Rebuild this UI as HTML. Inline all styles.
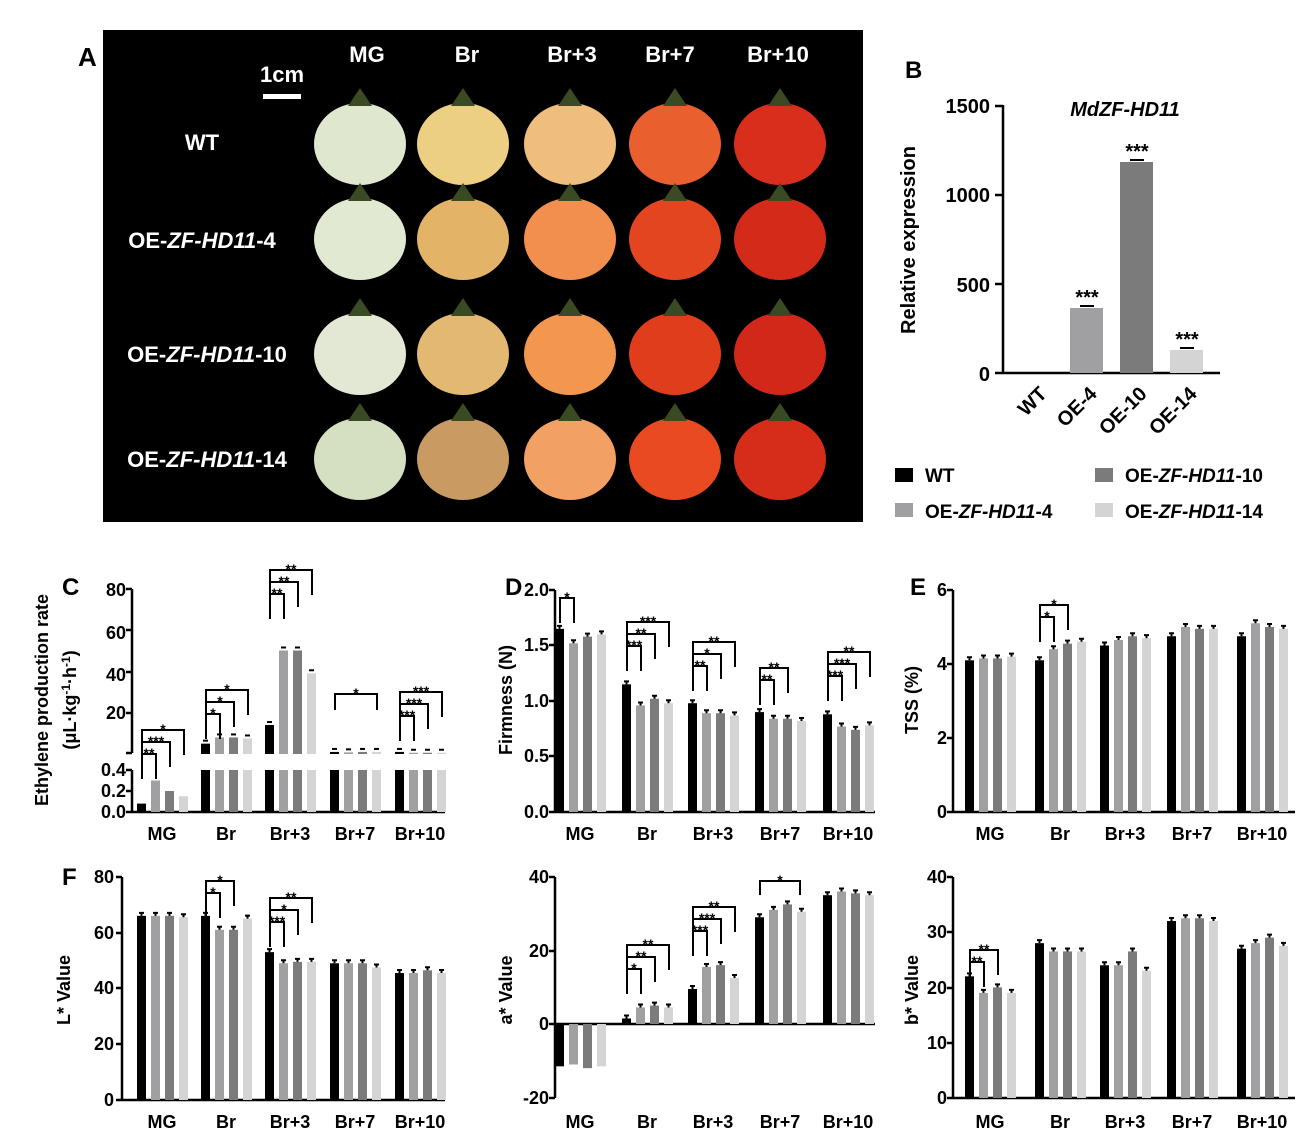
<!DOCTYPE html>
<html><head><meta charset="utf-8"><style>
body{margin:0;background:#fff;}
svg{display:block;font-family:"Liberation Sans",Arial,sans-serif;font-weight:bold;}
</style></head><body>
<svg id="s" width="1313" height="1145" viewBox="0 0 1313 1145" xmlns="http://www.w3.org/2000/svg">
<rect width="1313" height="1145" fill="#fff"/>
<!-- Panel A -->
<text x="78" y="66" font-size="26">A</text>
<rect x="103" y="30" width="760" height="492" fill="#000"/>
<g fill="#fff" font-size="22" text-anchor="middle">
<text x="367" y="62">MG</text><text x="467" y="62">Br</text><text x="572" y="62">Br+3</text><text x="670" y="62">Br+7</text><text x="778" y="62">Br+10</text>
<text x="282" y="82">1cm</text>
<text x="202" y="150">WT</text>
<text x="202" y="248">OE-<tspan font-style="italic">ZF-HD11</tspan>-4</text>
<text x="207" y="362">OE-<tspan font-style="italic">ZF-HD11</tspan>-10</text>
<text x="207" y="467">OE-<tspan font-style="italic">ZF-HD11</tspan>-14</text>
</g>
<rect x="263" y="94" width="38" height="5" fill="#fff"/>
<g id="tom"></g>
<!-- Panel B -->
<text x="905" y="78" font-size="24">B</text>
<text x="1125" y="116" font-size="20" font-style="italic" text-anchor="middle">MdZF-HD11</text>
<g font-size="20" text-anchor="end">
<text x="990" y="113">1500</text><text x="990" y="202">1000</text><text x="990" y="292">500</text><text x="990" y="381">0</text>
</g>
<text transform="translate(915,240) rotate(-90)" font-size="20" text-anchor="middle">Relative expression</text>
<path d="M1003 105V373H1220M995 106H1003M995 195H1003M995 284H1003M995 373H1003" stroke="#000" stroke-width="2.5" fill="none"/>
<rect x="1070" y="308" width="33" height="65" fill="#a0a0a2"/>
<rect x="1120" y="162" width="33" height="211" fill="#7b7b7b"/>
<rect x="1170" y="350" width="33" height="23" fill="#d4d4d4"/>
<path d="M1080 306H1094M1130 160H1144M1180 348H1194" stroke="#000" stroke-width="2"/>
<g font-size="20" text-anchor="middle"><text x="1087" y="304">***</text><text x="1137" y="158">***</text><text x="1187" y="346">***</text></g>
<g font-size="20" text-anchor="end">
<text transform="translate(1048,395) rotate(-45)">WT</text>
<text transform="translate(1098,395) rotate(-45)">OE-4</text>
<text transform="translate(1148,395) rotate(-45)">OE-10</text>
<text transform="translate(1198,395) rotate(-45)">OE-14</text>
</g>
<!-- legend -->
<rect x="895" y="468" width="18" height="14" fill="#000"/><text x="925" y="482" font-size="19">WT</text>
<rect x="895" y="503" width="18" height="14" fill="#a0a0a2"/><text x="925" y="518" font-size="19">OE-<tspan font-style="italic">ZF-HD11</tspan>-4</text>
<rect x="1095" y="468" width="18" height="14" fill="#7b7b7b"/><text x="1125" y="482" font-size="19">OE-<tspan font-style="italic">ZF-HD11</tspan>-10</text>
<rect x="1095" y="503" width="18" height="14" fill="#d4d4d4"/><text x="1125" y="518" font-size="19">OE-<tspan font-style="italic">ZF-HD11</tspan>-14</text>
<!-- Panel labels -->
<text x="62" y="595" font-size="24">C</text>
<text x="505" y="595" font-size="24">D</text>
<text x="910" y="595" font-size="24">E</text>
<text x="62" y="885" font-size="24">F</text>
<!-- C axis -->
<g font-size="18" text-anchor="end">
<text x="126" y="596">80</text><text x="126" y="639">60</text><text x="126" y="681">40</text><text x="126" y="719">20</text>
<text x="126" y="776">0.4</text><text x="126" y="797">0.2</text><text x="126" y="818">0.0</text>
</g>
<text transform="translate(48,700) rotate(-90)" font-size="18" text-anchor="middle">Ethylene production rate</text>
<text transform="translate(76,700) rotate(-90)" font-size="18" text-anchor="middle">(μL·kg<tspan font-size="12" dy="-6">-1</tspan><tspan dy="6">·h</tspan><tspan font-size="12" dy="-6">-1</tspan><tspan dy="6">)</tspan></text>
<path d="M132 589V753M126 589H132M126 630H132M126 672H132M126 713H132M126 753H132M132 770V812H445M126 770H132M126 791H132M126 812H132" stroke="#000" stroke-width="2.5" fill="none"/>
<!-- D axis -->
<g font-size="18" text-anchor="end">
<text x="549" y="596">2.0</text><text x="549" y="651">1.5</text><text x="549" y="707">1.0</text><text x="549" y="762">0.5</text><text x="549" y="818">0.0</text>
</g>
<text transform="translate(512,700) rotate(-90)" font-size="18" text-anchor="middle">Firmness (N)</text>
<path d="M555 590V812H875M549 590H555M549 645H555M549 701H555M549 756H555M549 812H555" stroke="#000" stroke-width="2.5" fill="none"/>
<!-- E axis -->
<g font-size="18" text-anchor="end">
<text x="947" y="596">6</text><text x="947" y="670">4</text><text x="947" y="744">2</text><text x="947" y="818">0</text>
</g>
<text transform="translate(918,700) rotate(-90)" font-size="18" text-anchor="middle">TSS  (%)</text>
<path d="M953 590V812H1295M947 590H953M947 664H953M947 738H953M947 812H953" stroke="#000" stroke-width="2.5" fill="none"/>
<!-- F L* -->
<g font-size="18" text-anchor="end">
<text x="114" y="883">80</text><text x="114" y="939">60</text><text x="114" y="994">40</text><text x="114" y="1050">20</text><text x="114" y="1106">0</text>
</g>
<text transform="translate(70,990) rotate(-90)" font-size="18" text-anchor="middle">L* Value</text>
<path d="M122 877V1100H445M116 877H122M116 933H122M116 988H122M116 1044H122M116 1100H122" stroke="#000" stroke-width="2.5" fill="none"/>
<!-- a* -->
<g font-size="18" text-anchor="end">
<text x="549" y="883">40</text><text x="549" y="957">20</text><text x="549" y="1030">0</text><text x="549" y="1104">-20</text>
</g>
<text transform="translate(512,990) rotate(-90)" font-size="18" text-anchor="middle">a* Value</text>
<path d="M555 877V1098M549 877H555M549 951H555M549 1024H555M549 1098H555M555 1024H875" stroke="#000" stroke-width="2.5" fill="none"/>
<!-- b* -->
<g font-size="18" text-anchor="end">
<text x="947" y="883">40</text><text x="947" y="938">30</text><text x="947" y="994">20</text><text x="947" y="1049">10</text><text x="947" y="1104">0</text>
</g>
<text transform="translate(918,990) rotate(-90)" font-size="18" text-anchor="middle">b* Value</text>
<path d="M953 877V1098H1295M947 877H953M947 932H953M947 988H953M947 1043H953M947 1098H953" stroke="#000" stroke-width="2.5" fill="none"/>
<!-- x labels -->
<g font-size="18" text-anchor="middle">
<text x="162" y="840">MG</text><text x="226" y="840">Br</text><text x="290" y="840">Br+3</text><text x="355" y="840">Br+7</text><text x="420" y="840">Br+10</text>
<text x="580" y="840">MG</text><text x="647" y="840">Br</text><text x="713" y="840">Br+3</text><text x="780" y="840">Br+7</text><text x="848" y="840">Br+10</text>
<text x="990" y="840">MG</text><text x="1060" y="840">Br</text><text x="1125" y="840">Br+3</text><text x="1192" y="840">Br+7</text><text x="1262" y="840">Br+10</text>
<text x="162" y="1128">MG</text><text x="226" y="1128">Br</text><text x="290" y="1128">Br+3</text><text x="355" y="1128">Br+7</text><text x="420" y="1128">Br+10</text>
<text x="580" y="1128">MG</text><text x="647" y="1128">Br</text><text x="713" y="1128">Br+3</text><text x="780" y="1128">Br+7</text><text x="848" y="1128">Br+10</text>
<text x="990" y="1128">MG</text><text x="1060" y="1128">Br</text><text x="1125" y="1128">Br+3</text><text x="1192" y="1128">Br+7</text><text x="1262" y="1128">Br+10</text>
</g>
<!-- significance asterisks -->
<g font-size="14" text-anchor="middle">
<text x="163" y="734">*</text><text x="156" y="746">***</text><text x="149" y="758">**</text>
<text x="227" y="694">*</text><text x="220" y="706">*</text><text x="213" y="718">*</text>
<text x="291" y="574">**</text><text x="284" y="586">**</text><text x="277" y="598">**</text>
<text x="356" y="698">*</text>
<text x="421" y="696">***</text><text x="414" y="708">***</text><text x="407" y="720">***</text>
<text x="567" y="602">*</text>
<text x="648" y="626">***</text><text x="641" y="638">**</text><text x="634" y="650">***</text>
<text x="714" y="646">**</text><text x="707" y="658">*</text><text x="700" y="670">**</text>
<text x="774" y="672">**</text><text x="767" y="684">**</text>
<text x="849" y="656">**</text><text x="842" y="668">***</text><text x="835" y="680">***</text>
<text x="1054" y="609">*</text><text x="1047" y="621">*</text>
<text x="220" y="885">*</text><text x="213" y="897">*</text>
<text x="291" y="902">**</text><text x="284" y="914">*</text><text x="277" y="926">***</text>
<text x="648" y="949">**</text><text x="641" y="961">**</text><text x="634" y="973">*</text>
<text x="714" y="911">**</text><text x="707" y="923">***</text><text x="700" y="935">***</text>
<text x="780" y="885">*</text>
<text x="984" y="954">**</text><text x="977" y="966">**</text>
</g>
<g id="bars"></g>
</svg>
<script>
var NS="http://www.w3.org/2000/svg",C=["#000","#a0a0a2","#7b7b7b","#d4d4d4"];
function r(g,x,y,w,h,f){var e=document.createElementNS(NS,"rect");e.setAttribute("x",x);e.setAttribute("y",y);e.setAttribute("width",w);e.setAttribute("height",Math.max(h,0));e.setAttribute("fill",f);g.appendChild(e);}
function l(g,d){var e=document.createElementNS(NS,"path");e.setAttribute("d",d);e.setAttribute("stroke","#000");e.setAttribute("stroke-width","2");e.setAttribute("fill","none");g.appendChild(e);}
var B=document.getElementById("bars");
function panel(cs,vals,y0,s,top){for(var i=0;i<5;i++)for(var j=0;j<4;j++){var x=cs[i]-25+j*14,v=vals[i][j],y=y0-v*s;
 if(v>=0){r(B,x,y,9,y0-y,C[j]);l(B,"M"+(x+2)+" "+(y-3)+"H"+(x+7)+"M"+(x+4.5)+" "+(y-3)+"V"+y);}
 else{r(B,x,y0,9,y-y0,C[j]);}}}
var c1=[162,226,290,355,420],c2=[580,647,713,780,848],c3=[990,1060,1125,1192,1262];
var up=[[0,0,0,0],[5,8,8,7.5],[14,50,50,39],[1,0.8,1,1],[1,0.6,0.6,0.6]],lo=[[0.08,0.3,0.2,0.15]];
for(var j=0;j<4;j++){var x=c1[0]-25+j*14,v=lo[0][j];r(B,x,812-v*105,9,v*105,C[j]);}
for(var i=1;i<5;i++)for(var j=0;j<4;j++){var x=c1[i]-25+j*14;r(B,x,770,9,42,C[j]);var y=754-up[i][j]*2.07;r(B,x,y,9,754-y,C[j]);l(B,"M"+(x+2)+" "+(y-3)+"H"+(x+7));}
panel(c2,[[1.65,1.52,1.58,1.6],[1.15,0.96,1.02,0.98],[0.98,0.89,0.89,0.87],[0.9,0.84,0.84,0.82],[0.88,0.77,0.74,0.78]],812,111);
panel(c3,[[4.1,4.15,4.15,4.2],[4.1,4.4,4.55,4.6],[4.5,4.65,4.75,4.7],[4.75,5,4.95,4.95],[4.75,5.1,5,4.95]],812,37);
panel(c1,[[66,66,66,65.5],[66,61,61,65],[53,49,49.5,49.5],[49,49,49,47.5],[45.5,45.5,46.5,45.5]],1100,2.79);
panel(c2,[[-11.5,-11,-12,-11.5],[1.5,4.5,5,4.5],[9.5,15.5,16,12.5],[29,31,32.5,30.5],[35,36,35.5,35]],1024,3.68);
panel(c3,[[22,19,20,19],[28,26.5,26.5,26.5],[24,24,26.5,23],[32,32.5,32.5,32],[27,28,29,27.5]],1098,5.53);
function br(cx,ytop,n){var x0=cx-20;for(var k=0;k<n;k++){var yy=ytop+k*12,x1=cx-20+14*(n-k);l(B,"M"+x0+" "+(yy+25)+"V"+yy+"H"+x1+"V"+(yy+25));}}
br(c1[0],730,3);br(c1[1],690,3);br(c1[2],570,3);br(c1[4],692,3);l(B,"M335 710V694H377V710");
br(c2[0],598,1);br(c2[1],622,3);br(c2[2],642,3);br(c2[3],668,2);br(c2[4],652,3);
br(c3[1],605,2);
br(c1[1],881,2);br(c1[2],898,3);
br(c2[1],945,3);br(c2[2],907,3);l(B,"M760 895V881H800V895");
br(c3[0],950,2);
var T=document.getElementById("tom"),cols=[360,463,570,675,780],rows=[140,235,350,455];
var tc=[["#dfe7cf","#eccf83","#efbd7c","#e9602e","#d92e1c"],["#e1e9d2","#e3b368","#f28f4e","#e2451f","#d42a19"],["#e2e8d3","#e3b872","#f39650","#df3d1b","#d12819"],["#d5e0c2","#c99a62","#f2a064","#ea4a22","#d52d1a"]];
for(var i=0;i<4;i++)for(var j=0;j<5;j++){var e=document.createElementNS(NS,"ellipse");e.setAttribute("cx",cols[j]);e.setAttribute("cy",rows[i]+4);e.setAttribute("rx",46);e.setAttribute("ry",41);e.setAttribute("fill",tc[i][j]);T.appendChild(e);
var s=document.createElementNS(NS,"path");s.setAttribute("d","M"+(cols[j]-12)+" "+(rows[i]-34)+"L"+cols[j]+" "+(rows[i]-52)+"L"+(cols[j]+12)+" "+(rows[i]-34)+"Z");s.setAttribute("fill","#3a4a22");T.appendChild(s);}
</script>
</body></html>
